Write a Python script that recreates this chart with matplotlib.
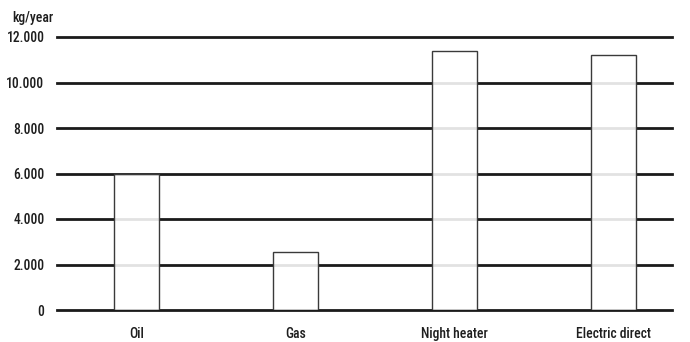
import numpy as np
import matplotlib.pyplot as plt
from matplotlib import font_manager

categories = ["Oil", "Gas", "Night heater", "Electric direct"]
values = [6000, 2550, 11400, 11200]
yticks = [0, 2000, 4000, 6000, 8000, 10000, 12000]
ytick_labels = ["0", "2.000", "4.000", "6.000", "8.000", "10.000", "12.000"]

names = {f.name for f in font_manager.fontManager.ttflist}
fam = "DejaVu Sans"
for cand in ["Roboto Condensed", "Liberation Sans Narrow", "DejaVu Sans Condensed"]:
    if cand in names:
        fam = cand
        break
plt.rcParams["font.family"] = [fam]
plt.rcParams["font.weight"] = "medium"

fig = plt.figure(figsize=(6.9, 3.42), dpi=100)
ax = fig.add_axes([57 / 690, 32 / 342, 615 / 690, 273 / 342])

x = np.arange(len(categories))
for yv in yticks:
    ax.axhline(yv, color="#1a1a1a", lw=2, zorder=1, clip_on=False)
ax.bar(x, values, width=0.283, facecolor=(1, 1, 1, 0.88), edgecolor="#3a3a3a",
       linewidth=1, zorder=2)

ax.set_xlim(-0.5, 3.37)
ax.set_ylim(0, 12000)
ax.set_yticks(yticks)
ax.set_yticklabels(ytick_labels)
ax.set_xticks(x)
ax.set_xticklabels(categories)
ax.tick_params(length=0, labelsize=9.8, colors="#1e1e1e")
ax.tick_params(axis="y", pad=9)
ax.tick_params(axis="x", pad=12)
for s in ax.spines.values():
    s.set_visible(False)

fig.text(12 / 690, 1 - 18 / 342, "kg/year", fontsize=9.8, color="#1e1e1e",
         va="center", ha="left")

fig.savefig("out.png", dpi=100)
